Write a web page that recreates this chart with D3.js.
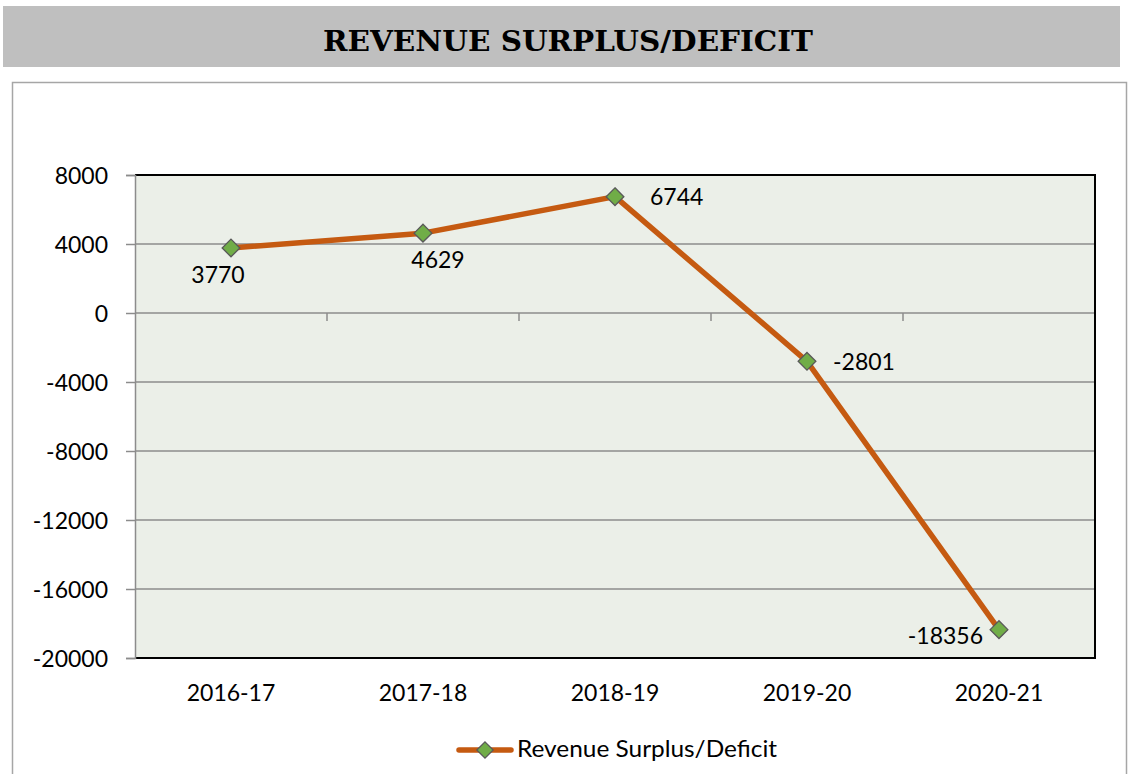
<!DOCTYPE html>
<html><head><meta charset="utf-8">
<script src="https://cdn.jsdelivr.net/npm/d3@7"></script>
<style>html,body{margin:0;padding:0;background:#fff;}svg{display:block;}</style>
</head><body>
<svg id="chart" width="1129" height="774"></svg>
<script>
const categories = ["2016-17","2017-18","2018-19","2019-20","2020-21"];
const values = [3770, 4629, 6744, -2801, -18356];
const yTicks = [8000, 4000, 0, -4000, -8000, -12000, -16000, -20000];
const seriesName = "Revenue Surplus/Deficit";
const title = "REVENUE SURPLUS/DEFICIT";

// label placement (styling, not data): [dx, dy, anchor]
const labelStyle = [[-13,35,"middle"],[15,35,"middle"],[35,8,"start"],[26,9,"start"],[-16,14,"end"]];

const svg = d3.select("#chart");
const font = "Lato, 'Open Sans', sans-serif";

// title band
svg.append("rect").attr("x",3).attr("y",6).attr("width",1117).attr("height",61).attr("fill","#bfbfbf");
svg.append("text").attr("x",568).attr("y",51).attr("text-anchor","middle")
  .attr("font-family","'DejaVu Serif', serif").attr("font-weight","bold").attr("font-size",28)
  .attr("textLength",490).attr("lengthAdjust","spacingAndGlyphs")
  .text(title);

// chart frame
svg.append("rect").attr("x",12.5).attr("y",82.5).attr("width",1114).attr("height",720)
  .attr("fill","#fff").attr("stroke","#a6a6a6").attr("stroke-width",1.5);

const L=135, R=1095, T=175, B=658;
const x = d3.scaleBand().domain(categories).range([L,R]);
const y = d3.scaleLinear().domain([-20000,8000]).range([B,T]);

const g = svg.append("g");
g.append("rect").attr("x",L).attr("y",T).attr("width",R-L).attr("height",B-T).attr("fill","#ebefe8");

// gridlines
g.selectAll(".grid").data(yTicks).join("line")
  .attr("x1",L).attr("x2",R).attr("y1",d=>y(d)).attr("y2",d=>y(d))
  .attr("stroke","#8c8c8c").attr("stroke-width",1.5);

// y axis
const yAxis = d3.axisLeft(y).tickValues(yTicks).tickSize(9).tickPadding(18).tickFormat(d=>String(d));
const ya = svg.append("g").attr("transform",`translate(${L},0)`).call(yAxis);
ya.select(".domain").attr("stroke","#8c8c8c").attr("stroke-width",1.5);
ya.selectAll(".tick line").attr("stroke","#8c8c8c").attr("stroke-width",1.5);
ya.selectAll("text").attr("font-family",font).attr("font-size",23).attr("fill","#000").attr("dy","0.35em");

// category boundary ticks on zero line
const bounds = categories.slice(1).map(c=>x(c));
g.selectAll(".ctick").data(bounds).join("line")
  .attr("x1",d=>d).attr("x2",d=>d).attr("y1",y(0)).attr("y2",y(0)+8)
  .attr("stroke","#8c8c8c").attr("stroke-width",1.5);

// black border top/right/bottom
g.append("path").attr("d",`M${L},${T}H${R}V${B}H${L}`).attr("fill","none").attr("stroke","#000").attr("stroke-width",2);

// x labels
svg.selectAll(".xl").data(categories).join("text")
  .attr("x",d=>x(d)+x.bandwidth()/2).attr("y",701).attr("text-anchor","middle")
  .attr("font-family",font).attr("font-size",23).attr("fill","#000").text(d=>d);

// line
const cx = (d,i)=>x(categories[i])+x.bandwidth()/2;
const line = d3.line().x((d,i)=>cx(d,i)).y(d=>y(d));
svg.append("path").datum(values).attr("d",line).attr("fill","none")
  .attr("stroke","#c55a11").attr("stroke-width",5.5).attr("stroke-linejoin","round");

// markers
const diamond = d3.symbol().type(d3.symbolDiamond2).size(200);
svg.selectAll(".mk").data(values).join("path")
  .attr("d",diamond).attr("transform",(d,i)=>`translate(${cx(d,i)},${y(d)})`)
  .attr("fill","#70ad47").attr("stroke","#595959").attr("stroke-width",1.3);

// data labels
svg.selectAll(".dl").data(values).join("text")
  .attr("x",(d,i)=>cx(d,i)+labelStyle[i][0])
  .attr("y",(d,i)=>y(d)+labelStyle[i][1])
  .attr("text-anchor",(d,i)=>labelStyle[i][2])
  .attr("font-family",font).attr("font-size",23).attr("fill","#000").text(d=>d);

// legend
const lg = svg.append("g");
lg.append("line").attr("x1",459).attr("x2",511).attr("y1",750).attr("y2",750)
  .attr("stroke","#c55a11").attr("stroke-width",5.5).attr("stroke-linecap","round");
lg.append("path").attr("d",d3.symbol().type(d3.symbolDiamond2).size(170)).attr("transform","translate(485,750)")
  .attr("fill","#70ad47").attr("stroke","#595959").attr("stroke-width",1.3);
lg.append("text").attr("x",517).attr("y",757).attr("font-family",font).attr("font-size",24).attr("fill","#000")
  .attr("textLength",260).attr("lengthAdjust","spacingAndGlyphs").text(seriesName);
</script>
</body></html>
